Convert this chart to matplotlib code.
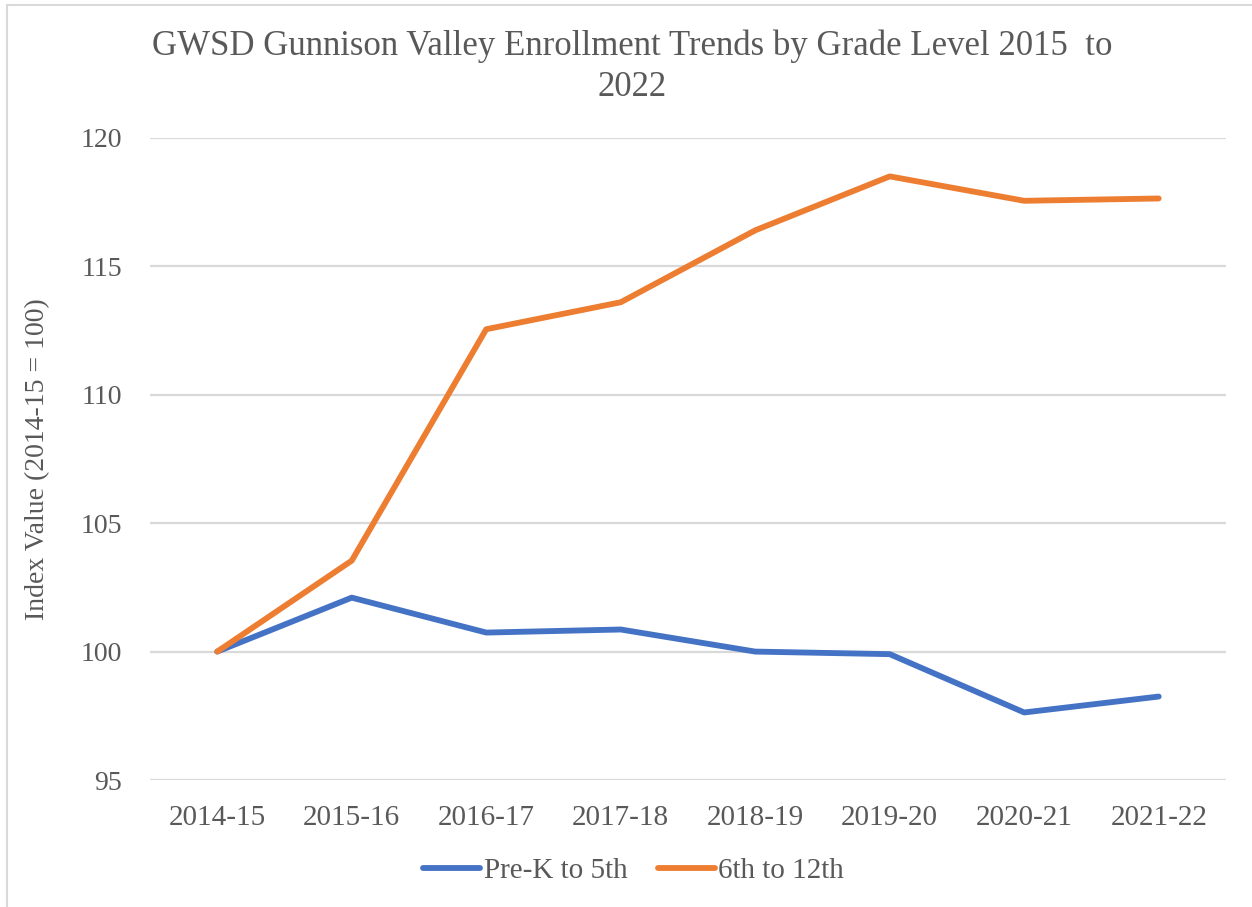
import matplotlib.pyplot as plt
from matplotlib.lines import Line2D

plt.rcParams['font.family'] = ['Liberation Serif', 'DejaVu Serif']

years = ['2014-15', '2015-16', '2016-17', '2017-18', '2018-19', '2019-20', '2020-21', '2021-22']
prek_5 = [100, 102.1, 100.74, 100.86, 100.0, 99.9, 97.63, 98.25]
g6_12 = [100, 103.54, 112.55, 113.6, 116.4, 118.5, 117.55, 117.64]

text_col = '#595959'

fig = plt.figure(figsize=(12.52, 9.07), dpi=100)
ax = fig.add_axes([0.1198, 0.140, 0.8594, 0.708])

x = range(len(years))
ax.plot(x, prek_5, color='#4472C4', lw=4.2, solid_capstyle='round', label='Pre-K to 5th')
ax.plot(x, g6_12, color='#ED7D31', lw=4.2, solid_capstyle='round', label='6th to 12th')

ax.set_xlim(-0.5, len(years) - 0.5)
ax.set_ylim(95, 120)
ax.set_yticks([95, 100, 105, 110, 115, 120])
ax.set_xticks(list(x))
ax.set_xticklabels(years)
ax.yaxis.grid(True, color='#D9D9D9', lw=1.6)
ax.set_axisbelow(True)
for s in ax.spines.values():
    s.set_visible(False)
ax.tick_params(length=0, labelsize=20, colors=text_col, pad=20)
ax.tick_params(axis='x', labelsize=21, pad=18)

ax.set_ylabel('Index Value (2014-15 = 100)', fontsize=20, color=text_col, labelpad=22)
fig.text(0.505, 0.926, 'GWSD Gunnison Valley Enrollment Trends by Grade Level 2015  to\n2022',
         ha='center', va='center', fontsize=25, color=text_col, linespacing=1.32)

fig.legend(loc='center', bbox_to_anchor=(0.506, 0.040), ncol=2, frameon=False,
           fontsize=21, labelcolor=text_col, handlelength=1.95, handletextpad=0.12,
           columnspacing=1.05)

# outer chart border (top and left visible)
fig.add_artist(Line2D([0.0055, 1.0], [0.9945, 0.9945], transform=fig.transFigure, color='#D9D9D9', lw=1.5))
fig.add_artist(Line2D([0.0055, 0.0055], [0.0, 0.9945], transform=fig.transFigure, color='#D9D9D9', lw=1.5))

fig.savefig('out.png', dpi=100)
